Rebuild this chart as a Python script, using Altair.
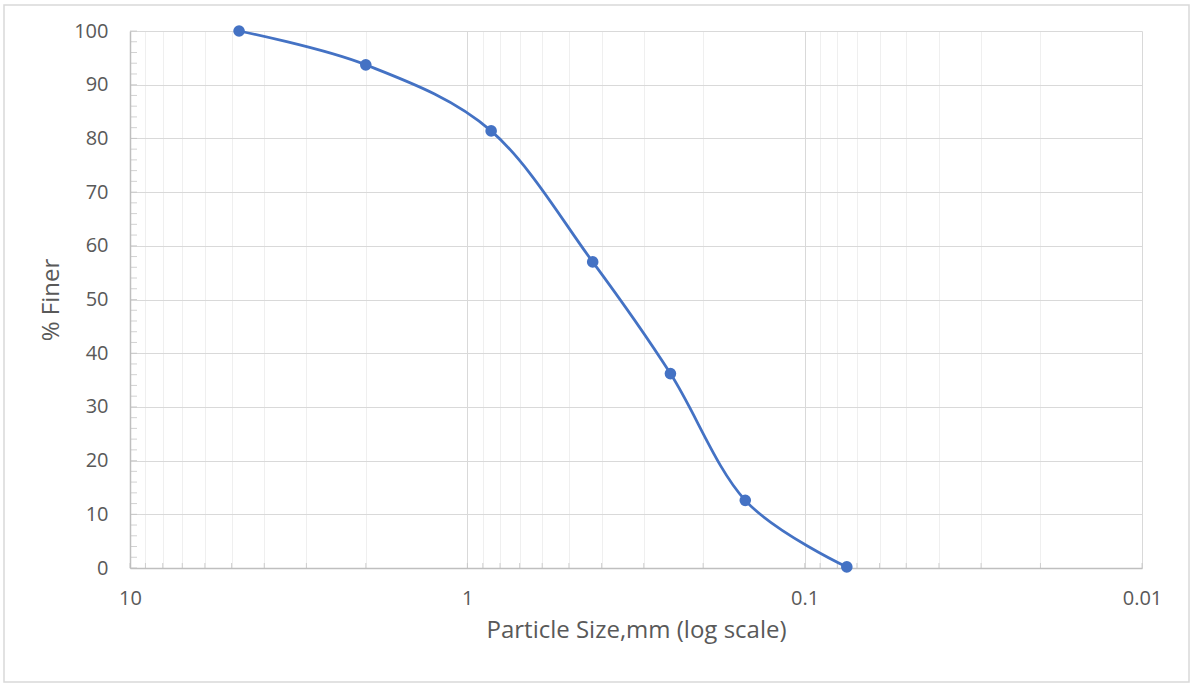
import altair as alt
import pandas as pd

# Sieve analysis: particle size (mm) vs cumulative percent passing
sieve_mm = [4.75, 2.0, 0.85, 0.425, 0.25, 0.15, 0.075]
percent_finer = [100.0, 93.7, 81.4, 57.0, 36.2, 12.6, 0.2]

# log-axis ticks: every integer multiple within each decade
x_ticks = [10.0] + [round(m * 10.0 ** e, 4) for e in (0, -1, -2) for m in (9, 8, 7, 6, 5, 4, 3, 2, 1)]
y_major = list(range(0, 101, 10))
y_minor = list(range(0, 101, 2))

W, H = 1012, 537
FONT = "Open Sans"
TEXT = "#595959"
BLUE = "#4472C4"

decade = "abs(log(datum.value)/LN10 - round(log(datum.value)/LN10)) < 1e-6"

x_scale = alt.Scale(type="log", domain=[0.01, 10], reverse=True, nice=False)
y_scale = alt.Scale(domain=[0, 100], nice=False, zero=True)

x_axis = alt.Axis(
    values=x_ticks,
    grid=True,
    gridColor={"condition": {"test": decade, "value": "#d9d9d9"}, "value": "#efefef"},
    gridWidth=1,
    ticks=False,
    domainColor="#bfbfbf",
    domainWidth=1.5,
    labelExpr=f"({decade}) ? format(datum.value, '~g') : ''",
    labelFont=FONT,
    labelFontSize=20,
    labelColor=TEXT,
    labelPadding=20,
    labelFlush=False,
    labelOverlap=False,
    title="Particle Size,mm (log scale)",
    titleFont=FONT,
    titleFontSize=24,
    titleFontWeight="normal",
    titleColor=TEXT,
    titlePadding=10,
)

y_axis = alt.Axis(
    values=y_major,
    grid=True,
    gridColor="#d9d9d9",
    gridWidth=1,
    ticks=False,
    domainColor="#bfbfbf",
    domainWidth=1.5,
    labelFont=FONT,
    labelFontSize=20,
    labelColor=TEXT,
    labelPadding=22,
    labelFlush=False,
    title="% Finer",
    titleFont=FONT,
    titleFontSize=24,
    titleFontWeight="normal",
    titleColor=TEXT,
    titlePadding=10,
)

curve_df = pd.DataFrame({"size": sieve_mm, "finer": percent_finer})
xtick_df = pd.DataFrame({"size": x_ticks})
ytick_df = pd.DataFrame({"finer": y_minor})

X = alt.X("size:Q", scale=x_scale, axis=x_axis)
Y = alt.Y("finer:Q", scale=y_scale, axis=y_axis)

frame = alt.Chart(pd.DataFrame({"k": [0]})).mark_rect(
    fill="transparent", stroke="#d9d9d9", strokeWidth=1.5
).encode(
    x=alt.value(-126), x2=alt.value(1059), y=alt.value(-26), y2=alt.value(651)
)

x_minor_ticks = alt.Chart(xtick_df).mark_tick(
    color="#bfbfbf", size=5, thickness=1
).encode(x=X, y=alt.value(H - 2.5))

y_minor_ticks = alt.Chart(ytick_df).mark_tick(
    color="#bfbfbf", size=7, thickness=1
).encode(y=Y, x=alt.value(3.5))

line = alt.Chart(curve_df).mark_line(
    color=BLUE, strokeWidth=2.75, interpolate="cardinal"
).encode(x=X, y=Y)

points = alt.Chart(curve_df).mark_circle(color=BLUE, opacity=1, size=135).encode(x=X, y=Y)

chart = alt.layer(frame, x_minor_ticks, y_minor_ticks, line, points).properties(
    width=W,
    height=H,
    autosize=alt.AutoSizeParams(type="none"),
    padding={"left": 130, "top": 31, "right": 50, "bottom": 116},
    background="white",
).configure_view(stroke="transparent")

chart.save("out.html", embed_options={"renderer": "svg", "actions": False})
